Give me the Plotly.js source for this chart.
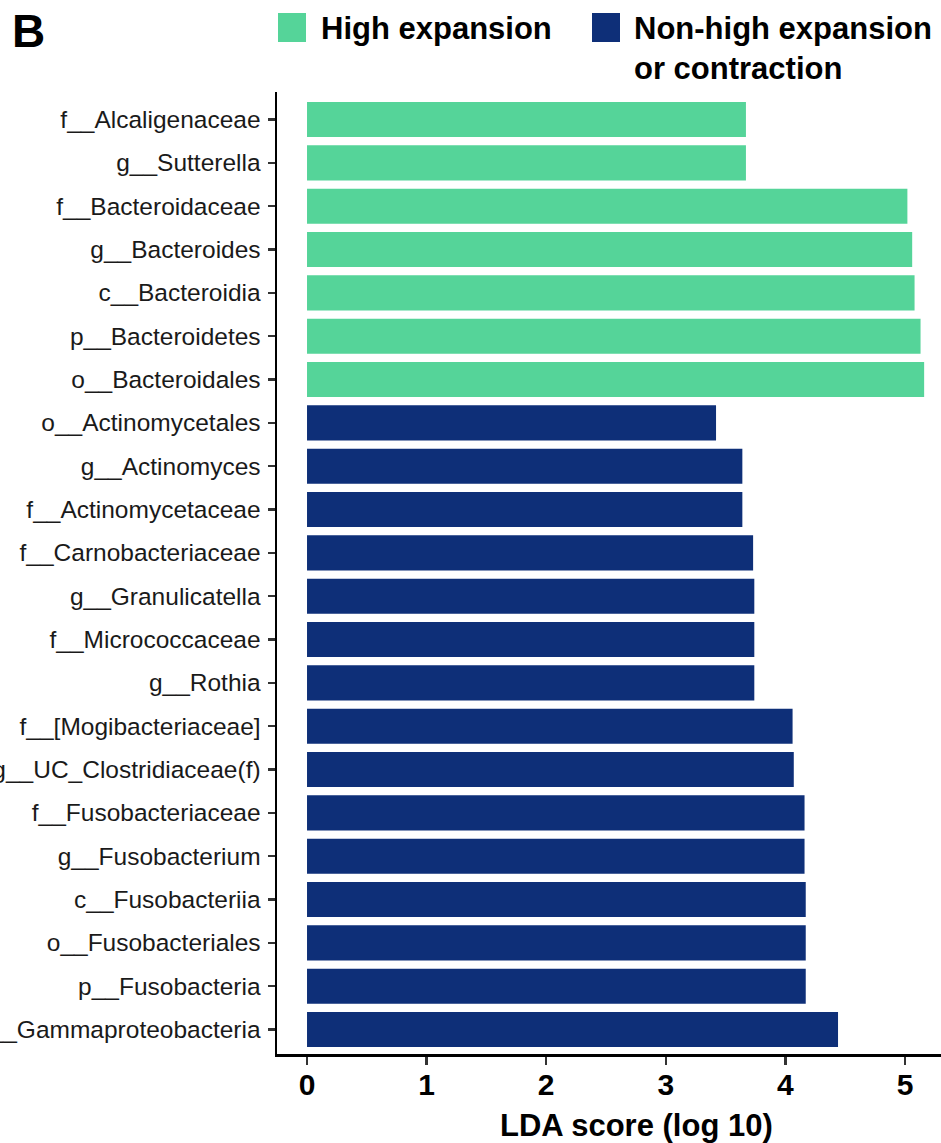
<!DOCTYPE html>
<html><head><meta charset="utf-8">
<script src="https://cdn.plot.ly/plotly-3.0.1.min.js"></script>
<style>html,body{margin:0;padding:0;background:#fff;}#chart{width:941px;height:1143px;}</style>
</head><body><div id="chart"></div>
<script>
const taxa = ["f__Alcaligenaceae","g__Sutterella","f__Bacteroidaceae","g__Bacteroides","c__Bacteroidia","p__Bacteroidetes","o__Bacteroidales",
  "o__Actinomycetales","g__Actinomyces","f__Actinomycetaceae","f__Carnobacteriaceae","g__Granulicatella","f__Micrococcaceae","g__Rothia",
  "f__[Mogibacteriaceae]","g__UC_Clostridiaceae(f)","f__Fusobacteriaceae","g__Fusobacterium","c__Fusobacteriia","o__Fusobacteriales","p__Fusobacteria","c__Gammaproteobacteria"];
const highTaxa = ["f__Alcaligenaceae","g__Sutterella","f__Bacteroidaceae","g__Bacteroides","c__Bacteroidia","p__Bacteroidetes","o__Bacteroidales"];
const highLDA = [3.67,3.67,5.02,5.06,5.08,5.13,5.16];
const lowTaxa = ["o__Actinomycetales","g__Actinomyces","f__Actinomycetaceae","f__Carnobacteriaceae","g__Granulicatella","f__Micrococcaceae","g__Rothia",
  "f__[Mogibacteriaceae]","g__UC_Clostridiaceae(f)","f__Fusobacteriaceae","g__Fusobacterium","c__Fusobacteriia","o__Fusobacteriales","p__Fusobacteria","c__Gammaproteobacteria"];
const lowLDA = [3.42,3.64,3.64,3.73,3.74,3.74,3.74,4.06,4.07,4.16,4.16,4.17,4.17,4.17,4.44];
const groupNames = ["High expansion","Non-high expansion<br>or contraction"];
const xTicks = [0,1,2,3,4,5];
const colors = ["#55D499","#0E2F78"];

const W=941,H=1143,L=277,R=0,T=92,B=89;
const px=(x)=>(x-L)/(W-L-R);
const py=(y)=>1-(y-T)/(H-T-B);

const traces=[
 {type:'bar',orientation:'h',y:highTaxa,x:highLDA,marker:{color:colors[0]},width:0.81,name:groupNames[0],showlegend:false,hoverinfo:'x+y'},
 {type:'bar',orientation:'h',y:lowTaxa,x:lowLDA,marker:{color:colors[1]},width:0.81,name:groupNames[1],showlegend:false,hoverinfo:'x+y'}
];
const font="Liberation Sans, Arial, Helvetica, sans-serif";
const layout={
 width:W,height:H,margin:{l:L,r:R,t:T,b:B,pad:0},
 paper_bgcolor:'#fff',plot_bgcolor:'#fff',
 font:{family:font,color:'#111'},
 xaxis:{range:[-0.251,5.301],tickvals:xTicks,showgrid:false,zeroline:false,showline:true,linecolor:'#000',linewidth:2.5,
   ticks:'outside',ticklen:8,tickwidth:2.5,tickcolor:'#333',ticklabelstandoff:-6,tickfont:{size:30,family:font,color:'#000',weight:'bold'},fixedrange:true},
 yaxis:{type:'category',categoryorder:'array',categoryarray:taxa,range:[21.565,-0.635],showgrid:false,zeroline:false,showline:true,
   linecolor:'#000',linewidth:2.5,ticks:'outside',ticklen:7,tickwidth:2.5,tickcolor:'#333',ticklabelstandoff:2,tickfont:{size:24.5,family:font,color:'#1a1a1a'},fixedrange:true},
 bargap:0.19,
 shapes:[
  {type:'rect',xref:'paper',yref:'paper',x0:px(278),x1:px(306),y0:py(42),y1:py(13),fillcolor:colors[0],line:{width:0}},
  {type:'rect',xref:'paper',yref:'paper',x0:px(592),x1:px(620),y0:py(42),y1:py(13),fillcolor:colors[1],line:{width:0}}
 ],
 annotations:[
  {xref:'paper',yref:'paper',x:px(319),y:py(29),xanchor:'left',yanchor:'middle',text:'<b>'+groupNames[0]+'</b>',showarrow:false,font:{size:31,family:font,color:'#000'}},
  {xref:'paper',yref:'paper',x:px(632),y:py(9),xanchor:'left',yanchor:'top',align:'left',text:'<b>'+groupNames[1]+'</b>',showarrow:false,font:{size:31,family:font,color:'#000'}},
  {xref:'paper',yref:'paper',x:px(10),y:py(31),xanchor:'left',yanchor:'middle',text:'<b>B</b>',showarrow:false,font:{size:46,family:font,color:'#000'}},
  {xref:'paper',yref:'paper',x:px(636),y:py(1125),xanchor:'center',yanchor:'middle',text:'<b>LDA score (log 10)</b>',showarrow:false,font:{size:31,family:font,color:'#000'}}
 ]
};
Plotly.newPlot('chart',traces,layout,{displayModeBar:false,staticPlot:true});
</script></body></html>
